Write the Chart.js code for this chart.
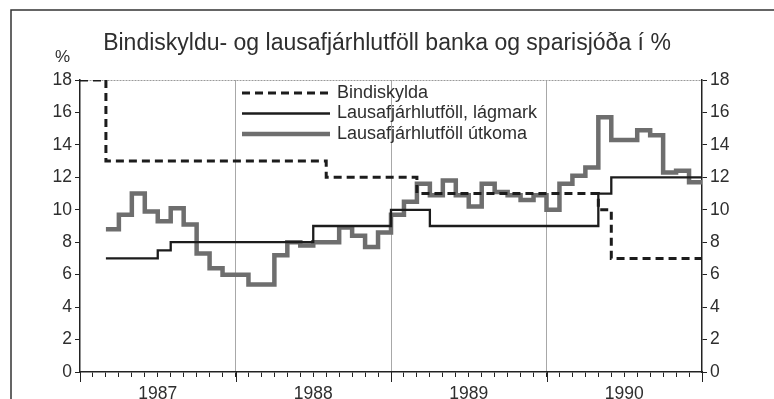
<!DOCTYPE html>
<html>
<head>
<meta charset="utf-8">
<script src="https://cdn.jsdelivr.net/npm/chart.js@4/dist/chart.umd.min.js"></script>
<style>
  html, body { margin: 0; padding: 0; background: #fff; }
  #wrap { width: 774px; height: 399px; position: relative; }
</style>
</head>
<body>
<div id="wrap"><canvas id="myChart"></canvas></div>
<script>
// monthly series, index 0 = jan 1987 ... 47 = dec 1990
var years = ['1987', '1988', '1989', '1990'];
var yTickValues = [0, 2, 4, 6, 8, 10, 12, 14, 16, 18];

var bindiskylda = [
  18, 18, 13, 13, 13, 13, 13, 13, 13, 13, 13, 13,
  13, 13, 13, 13, 13, 13, 13, 12, 12, 12, 12, 12,
  12, 12, 11, 11, 11, 11, 11, 11, 11, 11, 11, 11,
  11, 11, 11, 11, 10, 7, 7, 7, 7, 7, 7, 7
];
var lagmark = [
  null, null, 7, 7, 7, 7, 7.5, 8, 8, 8, 8, 8,
  8, 8, 8, 8, 8, 8, 9, 9, 9, 9, 9, 9,
  10, 10, 10, 9, 9, 9, 9, 9, 9, 9, 9, 9,
  9, 9, 9, 9, 11, 12, 12, 12, 12, 12, 12, 12
];
var utkoma = [
  null, null, 8.8, 9.7, 11.0, 9.9, 9.3, 10.1, 9.1, 7.3, 6.4, 6.0,
  6.0, 5.4, 5.4, 7.2, 8.0, 7.8, 8.0, 8.0, 8.9, 8.4, 7.7, 8.6,
  9.7, 10.5, 11.6, 10.9, 11.8, 10.9, 10.2, 11.6, 11.1, 10.9, 10.6, 10.9,
  10.0, 11.6, 12.1, 12.6, 15.7, 14.3, 14.3, 14.9, 14.6, 12.3, 12.4, 11.7
];

var txtColor = '#2e2e2e';
var fontFam = '"Liberation Sans", Arial, sans-serif';

// turn a monthly list into step points, last value held to the end of the month
function steps(vals) {
  var pts = [];
  var last = null;
  vals.forEach(function (v, i) {
    if (v !== null) { pts.push({ x: i, y: v }); last = v; }
  });
  pts.push({ x: vals.length, y: last });
  return pts;
}

// frame round the whole figure
var framePlugin = {
  id: 'frame',
  beforeDraw: function (chart) {
    var ctx = chart.ctx;
    ctx.save();
    ctx.strokeStyle = '#333';
    ctx.lineWidth = 1.5;
    ctx.strokeRect(11, 10, chart.width + 20, chart.height + 20);
    ctx.restore();
  }
};

// % sign, long year ticks and the legend
var extrasPlugin = {
  id: 'extras',
  afterDraw: function (chart) {
    var ctx = chart.ctx;
    var area = chart.chartArea;
    var xs = chart.scales.x;
    var ys = chart.scales.y;
    ctx.save();

    ctx.fillStyle = txtColor;
    ctx.font = '17px ' + fontFam;
    ctx.textAlign = 'right';
    ctx.textBaseline = 'middle';
    ctx.fillText('%', ys.right - 10, area.top - 23);

    ctx.strokeStyle = '#222';
    ctx.lineWidth = 1;
    for (var k = 0; k <= years.length; k++) {
      var px = Math.round(xs.getPixelForValue(k * 12)) + 0.5;
      ctx.beginPath();
      ctx.moveTo(px, area.bottom);
      ctx.lineTo(px, area.bottom + 10);
      ctx.stroke();
    }

    var lx = area.left + 162;
    var ly = area.top + 13;
    ctx.font = '18px ' + fontFam;
    chart.data.datasets.forEach(function (ds, i) {
      var y = ly + i * 20.5;
      ctx.beginPath();
      ctx.setLineDash(ds.borderDash || []);
      ctx.strokeStyle = ds.borderColor;
      ctx.lineWidth = ds.borderWidth;
      ctx.moveTo(lx, y);
      ctx.lineTo(lx + 88, y);
      ctx.stroke();
      ctx.setLineDash([]);
      ctx.textAlign = 'left';
      ctx.fillStyle = txtColor;
      ctx.fillText(ds.label, lx + 95, y);
    });
    ctx.restore();
  }
};

var yAxis = function (pos) {
  return {
    type: 'linear',
    position: pos,
    min: 0,
    max: 18,
    afterBuildTicks: function (scale) {
      scale.ticks = yTickValues.map(function (v) { return { value: v }; });
    },
    afterFit: function (scale) {
      scale.width = pos === 'left' ? 80 : 72;
    },
    ticks: {
      color: txtColor,
      font: { size: 17.5, family: fontFam },
      padding: 3
    },
    grid: {
      drawOnChartArea: pos === 'left',
      color: function (c) {
        return c.tick && c.tick.value === 18 ? '#9a9a9a' : 'rgba(0,0,0,0)';
      },
      tickColor: '#222',
      tickLength: 5,
      lineWidth: 1
    },
    border: { color: '#222', width: 1.5, dash: [2, 1] }
  };
};

var myChart = new Chart(document.getElementById('myChart').getContext('2d'), {
  type: 'line',
  data: {
    datasets: [{
      label: 'Bindiskylda',
      data: steps(bindiskylda),
      stepped: true,
      borderColor: '#1c1c1c',
      borderWidth: 3,
      borderDash: [8, 5],
      pointRadius: 0,
      fill: false,
      yAxisID: 'y'
    }, {
      label: 'Lausafjárhlutföll, lágmark',
      data: steps(lagmark),
      stepped: true,
      borderColor: '#1c1c1c',
      borderWidth: 2.3,
      pointRadius: 0,
      fill: false,
      yAxisID: 'y'
    }, {
      label: 'Lausafjárhlutföll útkoma',
      data: steps(utkoma),
      stepped: true,
      borderColor: '#6e6e6e',
      borderWidth: 4.5,
      pointRadius: 0,
      fill: false,
      yAxisID: 'y'
    }]
  },
  options: {
    responsive: true,
    maintainAspectRatio: false,
    animation: false,
    layout: { padding: 0 },
    scales: {
      x: {
        type: 'linear',
        min: 0,
        max: 48,
        afterFit: function (scale) { scale.height = 27; },
        ticks: {
          stepSize: 1,
          autoSkip: false,
          maxRotation: 0,
          color: txtColor,
          font: { size: 17.5, family: fontFam },
          padding: 7,
          callback: function (v) {
            return v % 12 === 6 ? years[Math.floor(v / 12)] : '';
          }
        },
        grid: {
          color: function (c) {
            var v = c.tick ? c.tick.value : -1;
            return (v % 12 === 0 && v > 0 && v < 48) ? '#a8a8a8' : 'rgba(0,0,0,0)';
          },
          tickColor: '#222',
          tickLength: 5,
          lineWidth: 1
        },
        border: { color: '#222', width: 1.5 }
      },
      y: yAxis('left'),
      y1: yAxis('right')
    },
    plugins: {
      legend: { display: false },
      tooltip: { enabled: false },
      title: {
        display: true,
        text: 'Bindiskyldu- og lausafjárhlutföll banka og sparisjóða í %',
        color: txtColor,
        font: { size: 23, family: fontFam, weight: 'normal' },
        padding: { top: 30, bottom: 22.4 }
      }
    }
  },
  plugins: [framePlugin, extrasPlugin]
});
</script>
</body>
</html>
